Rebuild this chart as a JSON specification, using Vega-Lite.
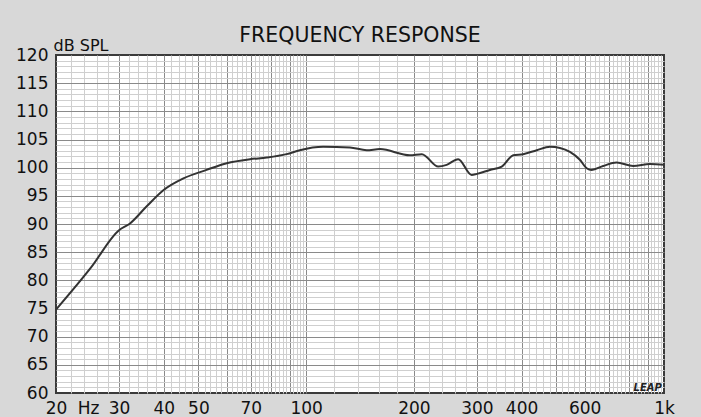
{
  "$schema": "https://vega.github.io/schema/vega-lite/v6.json",
  "width": 608,
  "height": 338,
  "autosize": {"type": "none"},
  "padding": {"left": 56, "top": 55, "right": 37, "bottom": 24},
  "background": "#d8d8d8",
  "title": {"text": "FREQUENCY RESPONSE", "font": "DejaVu Sans", "fontSize": 20.5, "fontWeight": "normal", "color": "#111111", "anchor": "middle", "frame": "group", "offset": -9},
  "config": {
    "view": {"fill": "white", "stroke": "#3a3a3a", "strokeWidth": 2},
    "axis": {"labelFont": "DejaVu Sans", "titleFont": "DejaVu Sans", "labelColor": "#111111", "titleColor": "#111111", "labelFontSize": 17, "ticks": false, "tickSize": 0, "domain": false, "labelOverlap": false, "labelFlush": false, "labelBound": false}
  },
  "data": {"values": [
    {"freq": 20, "spl": 74.8},
    {"freq": 25, "spl": 82.2},
    {"freq": 30, "spl": 88.9},
    {"freq": 32.2, "spl": 90.1},
    {"freq": 35.8, "spl": 93.1},
    {"freq": 39.9, "spl": 96.0},
    {"freq": 45.4, "spl": 98.1},
    {"freq": 52.7, "spl": 99.6},
    {"freq": 60, "spl": 100.8},
    {"freq": 69.7, "spl": 101.5},
    {"freq": 77.6, "spl": 101.8},
    {"freq": 88.2, "spl": 102.4},
    {"freq": 96, "spl": 103.1},
    {"freq": 111.6, "spl": 103.7},
    {"freq": 132.6, "spl": 103.6},
    {"freq": 147.6, "spl": 103.1},
    {"freq": 160.8, "spl": 103.3},
    {"freq": 195, "spl": 102.2},
    {"freq": 210.5, "spl": 102.4},
    {"freq": 234, "spl": 100.2},
    {"freq": 247, "spl": 100.5},
    {"freq": 266, "spl": 101.5},
    {"freq": 290, "spl": 98.7},
    {"freq": 300, "spl": 98.9},
    {"freq": 326, "spl": 99.6},
    {"freq": 352, "spl": 100.2},
    {"freq": 379, "spl": 102.2},
    {"freq": 404, "spl": 102.4},
    {"freq": 441, "spl": 103.1},
    {"freq": 480, "spl": 103.7},
    {"freq": 512, "spl": 103.5},
    {"freq": 546, "spl": 102.8},
    {"freq": 582, "spl": 101.4},
    {"freq": 608, "spl": 99.9},
    {"freq": 628, "spl": 99.6},
    {"freq": 676, "spl": 100.3},
    {"freq": 737, "spl": 100.9},
    {"freq": 820, "spl": 100.3},
    {"freq": 914, "spl": 100.65},
    {"freq": 1000, "spl": 100.5}
  ]},
  "layer": [
    {
      "mark": {"type": "line", "strokeOpacity": 0},
      "encoding": {
        "x": {"field": "freq", "type": "quantitative", "scale": {"type": "log", "domain": [20, 1000], "nice": false},
          "axis": {"orient": "bottom", "title": null, "labels": false, "grid": true, "gridColor": "#cfcfcf", "gridWidth": 1,
            "values": [22,24,26,28,32,34,36,38,42,44,46,48,52,54,56,58,62,64,66,68,72,74,76,78,82,84,86,88,92,94,96,98,120,140,160,180,220,240,260,280,320,340,360,380,420,440,460,480,520,540,560,580,620,640,660,680,720,740,760,780,820,840,860,880,920,940,960,980]}},
        "y": {"field": "spl", "type": "quantitative", "scale": {"domain": [60, 120], "nice": false, "zero": false},
          "axis": {"orient": "left", "title": null, "labels": false, "grid": true, "gridColor": "#cfcfcf", "gridWidth": 1,
            "values": [61,62,63,64,66,67,68,69,71,72,73,74,76,77,78,79,81,82,83,84,86,87,88,89,91,92,93,94,96,97,98,99,101,102,103,104,106,107,108,109,111,112,113,114,116,117,118,119]}}
      }
    },
    {
      "mark": {"type": "line", "strokeOpacity": 0},
      "encoding": {
        "x": {"field": "freq", "type": "quantitative", "scale": {"type": "log", "domain": [20, 1000], "nice": false},
          "axis": {"orient": "bottom", "title": null, "labels": false, "grid": true, "gridColor": "#8a8a8a", "gridWidth": 1,
            "values": [30,40,50,60,70,80,90,100,200,300,400,500,600,700,800,900]}},
        "y": {"field": "spl", "type": "quantitative", "scale": {"domain": [60, 120], "nice": false, "zero": false},
          "axis": {"orient": "left", "title": null, "labels": false, "grid": true, "gridColor": "#8a8a8a", "gridWidth": 1,
            "values": [65,70,75,80,85,90,95,100,105,110,115]}}
      }
    },
    {
      "mark": {"type": "line", "color": "#333333", "strokeWidth": 2, "interpolate": "monotone"},
      "encoding": {
        "x": {"field": "freq", "type": "quantitative", "scale": {"type": "log", "domain": [20, 1000], "nice": false},
          "axis": {"orient": "bottom", "grid": false, "labelPadding": 7, "labelBaseline": "top",
            "values": [20,30,40,50,70,100,200,300,400,600,1000],
            "labelExpr": "datum.value >= 1000 ? '1k' : format(datum.value, 'd')",
            "title": "Hz", "titleFontSize": 17, "titleFontWeight": "normal", "titleX": 32, "titleY": 20, "titleAlign": "center", "titleBaseline": "alphabetic"}},
        "y": {"field": "spl", "type": "quantitative", "scale": {"domain": [60, 120], "nice": false, "zero": false},
          "axis": {"orient": "left", "grid": false, "labelPadding": 8,
            "values": [60,65,70,75,80,85,90,95,100,105,110,115,120],
            "title": "dB SPL", "titleAngle": 0, "titleFontSize": 16, "titleFontWeight": "normal", "titleX": -3, "titleY": -5, "titleAlign": "left", "titleBaseline": "alphabetic"}}
      }
    },
    {
      "data": {"values": [{"freq": 986, "spl": 60.4, "label": "LEAP"}]},
      "mark": {"type": "text", "align": "right", "baseline": "alphabetic", "font": "DejaVu Sans", "fontSize": 10, "fontWeight": "bold", "fontStyle": "italic", "color": "#222222"},
      "encoding": {
        "x": {"field": "freq", "type": "quantitative", "scale": {"type": "log", "domain": [20, 1000], "nice": false}, "axis": null},
        "y": {"field": "spl", "type": "quantitative", "scale": {"domain": [60, 120], "nice": false, "zero": false}, "axis": null},
        "text": {"field": "label"}
      }
    }
  ],
  "resolve": {"axis": {"x": "independent", "y": "independent"}}
}
